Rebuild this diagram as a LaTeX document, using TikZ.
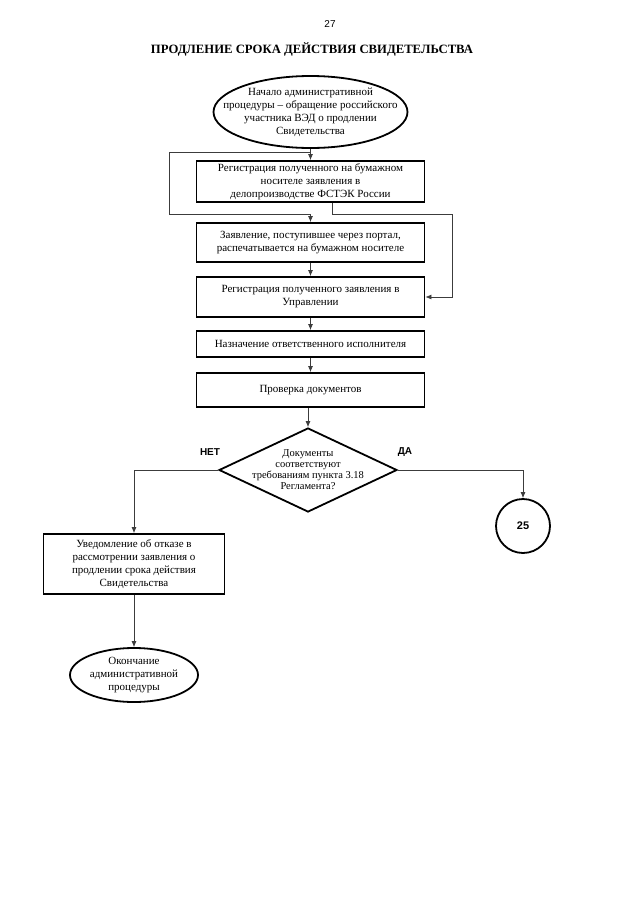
\documentclass[tikz,border=0pt]{standalone}
\usepackage{fontspec}
\setmainfont{Liberation Serif}
\newfontfamily\arialfont{Liberation Sans}
\usetikzlibrary{shapes.geometric,arrows.meta}
\definecolor{flowGray}{RGB}{60,60,60}
\newcommand{\boxfont}{\fontsize{11}{13}\selectfont}

\begin{document}
\begin{tikzpicture}[x=1pt, y=-1pt,
  stepBox/.style={draw, line width=1.8pt, minimum width=228pt, inner sep=2pt, align=center, font=\boxfont},
  termNode/.style={draw, ellipse, line width=1.8pt, inner ysep=0pt, align=center, font=\boxfont},
  flow/.style={draw=flowGray, line width=0.7pt, -{Latex[length=6pt,width=5pt]}},
  answer/.style={font=\arialfont\bfseries\fontsize{10}{12}\selectfont}]
\useasboundingbox (0,0) rectangle (640,905);

% Header
\node[font=\arialfont\fontsize{10}{12}\selectfont] (page) at (330,24) {27};
\node[font=\bfseries\fontsize{12.7}{15}\selectfont] (title) at (312,49) {ПРОДЛЕНИЕ СРОКА ДЕЙСТВИЯ СВИДЕТЕЛЬСТВА};

% Main column
\node[termNode, inner xsep=-19pt, minimum width=194pt, minimum height=72pt] (start) at (310.5,112) {Начало административной\\процедуры -- обращение российского\\участника ВЭД о продлении\\Свидетельства};
\node[stepBox, minimum height=41pt] (reg) at (310.5,181.5) {Регистрация полученного на бумажном\\носителе заявления в\\делопроизводстве ФСТЭК России};
\node[stepBox, minimum height=39pt] (portal) at (310.5,242.5) {Заявление, поступившее через портал,\\распечатывается на бумажном носителе};
\node[stepBox, minimum height=40pt] (regUpr) at (310.5,297) {Регистрация полученного заявления в\\Управлении};
\node[stepBox, minimum height=26pt] (assign) at (310.5,344) {Назначение ответственного исполнителя};
\node[stepBox, minimum height=34pt] (check) at (310.5,390) {Проверка документов};
\node[draw, diamond, aspect=2.1, line width=1.8pt, minimum width=178pt, minimum height=84pt, inner sep=-20pt, align=center, font=\fontsize{10.5}{11}\selectfont] (valid) at (308,470) {Документы\\соответствуют\\требованиям пункта 3.18\\Регламента?};

% Branches
\node[answer] (no) at (210,452) {НЕТ};
\node[answer] (yes) at (405,452) {ДА};
\node[draw, circle, line width=1.8pt, minimum size=54pt, font=\arialfont\bfseries\fontsize{11}{13}\selectfont] (goto) at (523,526) {25};
\node[stepBox, minimum width=181pt, minimum height=60pt] (refuse) at (134,564) {Уведомление об отказе в\\рассмотрении заявления о\\продлении срока действия\\Свидетельства};
\node[termNode, inner xsep=0pt, minimum width=128pt, minimum height=54pt] (stop) at (134,675) {Окончание\\административной\\процедуры};

% Bypass points
\coordinate (split) at (310.5,152);
\coordinate (bypassL) at (169,214);
\coordinate (bypassR) at (452,214);

% Connectors
\draw[flow] (start) -- (reg);
\draw[flow] (split) -| (bypassL) -| (portal.north);
\draw[flow] ([xshift=22pt]reg.south) |- (bypassR) |- (regUpr.east);
\draw[flow] (portal) -- (regUpr);
\draw[flow] (regUpr) -- (assign);
\draw[flow] (assign) -- (check);
\draw[flow] (check.south -| valid.north) -- (valid.north);
\draw[flow] (valid.west) -| (refuse.north);
\draw[flow] (valid.east) -| (goto.north);
\draw[flow] (refuse) -- (stop);
\end{tikzpicture}
\end{document}
